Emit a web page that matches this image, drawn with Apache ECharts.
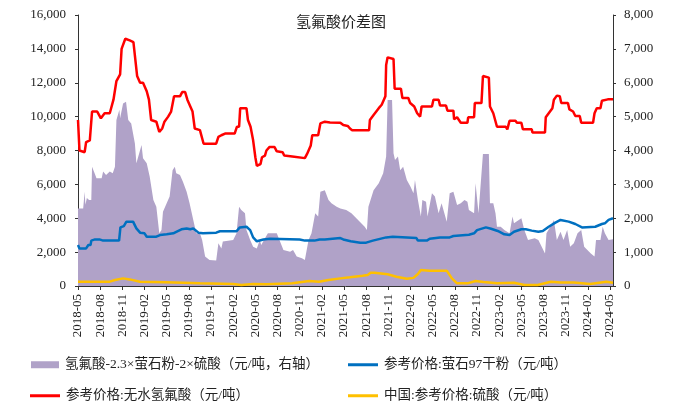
<!DOCTYPE html>
<html>
<head>
<meta charset="utf-8">
<script src="https://cdn.jsdelivr.net/npm/echarts@6/dist/echarts.min.js"></script>
<style>
html,body{margin:0;padding:0;background:#fff;}
#main{width:681px;height:403px;}
</style>
</head>
<body>
<div id="main"></div>
<script>
// 横轴数值 = 自 2018-05 起的月数
var xLabels = ['2018-05','2018-08','2018-11','2019-02','2019-05','2019-08','2019-11','2020-02','2020-05',
    '2020-08','2020-11','2021-02','2021-05','2021-08','2021-11','2022-02','2022-05','2022-08','2022-11',
    '2023-02','2023-05','2023-08','2023-11','2024-02','2024-05'];

// 氢氟酸-2.3×萤石粉-2×硫酸（右轴）
var spread = [[0,2290],[0.7,2290],[0.9,2780],[1.0,2400],[1.2,2600],[1.5,2540],[1.8,2540],[1.9,3520],[2.3,3300],
    [2.5,3180],[3.2,3180],[3.4,3380],[3.8,3280],[4.3,3380],[4.7,3330],[5.0,3520],[5.2,4900],[5.6,5200],[5.7,4950],
    [6.1,5390],[6.5,5440],[6.8,4900],[7.2,4800],[7.7,4210],[7.9,3620],[8.4,4010],[8.6,4160],[8.8,3770],[9.3,3620],
    [9.7,3230],[10.2,2540],[10.6,2340],[11.0,1560],[11.3,1650],[11.5,2190],[12.0,2440],[12.4,2640],[12.8,3420],
    [13.1,3520],[13.3,3330],[13.8,3280],[14.2,3080],[14.7,2780],[15.1,2440],[15.6,1950],[16.0,1560],[16.5,1560],
    [16.8,1360],[17.2,870],[17.8,770],[18.7,750],[19.0,1260],[19.4,1110],[19.6,1310],[21.0,1360],[21.45,1560],
    [21.8,2340],[22.1,2240],[22.6,2150],[22.8,1650],[23.3,1360],[23.7,1160],[24.2,1110],[24.6,1360],[24.8,1210],
    [25.3,1410],[25.7,1560],[26.9,1560],[27.8,1060],[28.7,1010],[29.1,1060],[29.6,870],[30.3,820],[30.7,770],
    [31.2,1360],[31.6,1560],[32.1,2150],[32.5,2050],[32.8,2780],[33.4,2830],[33.9,2540],[34.3,2440],[35.0,2340],
    [35.5,2290],[36.3,2240],[37.0,2150],[37.9,1950],[38.8,1750],[39.1,1650],[39.3,2340],[40.0,2830],[40.7,3030],
    [41.3,3330],[41.7,3820],[41.9,5490],[42.5,5490],[42.7,3920],[42.9,3720],[43.3,3820],[43.6,3420],[44.0,3520],
    [44.5,3130],[45.0,2930],[45.4,2740],[45.6,3130],[46.0,2540],[46.4,2050],[46.6,2540],[47.1,2490],[47.3,2050],
    [47.9,2740],[48.3,2640],[48.8,2150],[49.2,2440],[49.9,1900],[50.3,2740],[50.8,2780],[51.3,2390],[51.8,2440],
    [52.3,2540],[52.7,2490],[52.9,2240],[53.6,2150],[53.8,3030],[54.2,2150],[54.8,3900],[55.6,3900],[55.75,2440],
    [56.2,2440],[56.5,2150],[56.7,1750],[57.2,1750],[57.7,1650],[58.4,1560],[58.8,2050],[59.0,1850],[60.0,2000],
    [60.4,1650],[60.9,1360],[61.8,1410],[62.3,1360],[63.2,960],[63.4,1560],[64.2,1850],[64.4,1950],[64.8,1360],
    [65.3,1600],[65.7,1360],[66.2,1650],[66.6,1160],[67.1,1260],[67.6,1560],[68.1,1650],[68.5,1160],[69.4,960],
    [69.9,870],[70.1,1360],[70.7,1360],[71.0,1750],[71.3,1560],[71.8,1360],[72.4,1380]];

// 参考价格:无水氢氟酸
var hfPrice = [[0,9800],[0.2,8000],[0.9,7900],[1.1,8500],[1.6,8600],[1.9,10300],[2.6,10300],[3.1,9900],[3.6,10200],
    [4.3,10200],[4.8,11000],[5.2,12100],[5.7,12500],[5.9,14000],[6.4,14600],[7.0,14500],[7.5,14400],[7.8,13200],
    [8.0,12400],[8.4,12000],[8.8,12000],[9.3,11500],[9.6,11000],[9.9,9800],[10.6,9700],[11.0,9100],[11.4,9300],
    [11.7,9700],[12.2,10000],[12.6,10300],[13.0,11200],[13.8,11200],[14.1,11450],[14.5,11450],[14.8,11000],
    [15.2,10600],[15.5,10300],[15.8,9300],[16.5,9200],[17.0,8400],[18.7,8400],[19.0,8800],[19.4,8900],[19.9,9000],
    [21.2,9000],[21.5,9400],[21.8,9400],[21.95,10500],[22.8,10500],[23.0,9800],[23.35,9400],[23.7,8600],[24.0,7600],
    [24.2,7100],[24.7,7200],[24.9,7600],[25.3,7700],[25.5,8000],[25.9,8200],[26.6,8200],[26.9,7950],[27.7,7900],
    [27.9,7700],[29.0,7650],[29.2,7550],[30.7,7550],[31.0,7800],[31.5,8300],[31.7,8900],[32.5,8900],[32.8,9600],
    [33.4,9700],[34.1,9650],[35.5,9640],[35.9,9500],[36.5,9450],[36.8,9300],[37.1,9200],[39.4,9200],[39.5,9800],
    [40.0,10100],[40.7,10500],[41.1,10700],[41.6,11200],[41.7,13050],[41.9,13500],[42.7,13400],[42.85,11650],
    [43.7,11650],[43.9,11100],[44.7,11100],[44.95,10800],[45.5,10600],[45.9,10200],[46.3,10000],[46.5,10600],
    [47.9,10600],[48.1,11000],[48.8,11000],[49.0,10650],[49.8,10650],[50.0,10350],[50.8,10350],[50.9,9840],
    [51.3,9960],[51.8,9640],[52.7,9640],[52.8,9960],[53.6,9960],[53.7,10800],[54.6,10800],[54.8,12400],[55.6,12300],
    [55.75,10600],[56.2,10200],[56.7,9400],[57.9,9400],[58.1,9250],[58.3,9250],[58.4,9760],[59.2,9760],[59.4,9640],
    [60.0,9640],[60.2,9250],[61.4,9250],[61.5,9070],[63.2,9070],[63.3,9960],[63.7,10200],[64.2,10500],[64.4,11000],
    [64.8,11240],[65.2,11200],[65.4,10800],[66.3,10800],[66.5,10430],[67.0,10300],[67.3,10040],[67.9,10040],
    [68.1,9640],[69.7,9640],[69.9,10200],[70.2,10500],[70.7,10500],[70.9,10940],[71.7,11020],[72.4,11020]];

// 参考价格:萤石97干粉
var fluorite = [[0,2420],[0.2,2220],[1.1,2220],[1.4,2420],[1.7,2420],[1.8,2680],[2.3,2750],[2.9,2750],[3.4,2680],
    [5.56,2680],[5.74,3460],[6.2,3540],[6.55,3800],[7.45,3800],[7.9,3400],[8.4,3150],[9.0,3110],[9.3,2910],
    [10.6,2910],[11.1,3010],[12.0,3050],[12.9,3110],[13.3,3200],[14.0,3350],[14.7,3400],[15.2,3350],[15.6,3400],
    [16.3,3150],[16.9,3110],[18.7,3150],[19.2,3230],[21.45,3230],[21.9,3460],[22.8,3500],[23.3,3300],[23.7,2870],
    [24.2,2640],[25.1,2750],[26.0,2790],[30.0,2750],[30.7,2680],[32.0,2680],[32.7,2750],[33.4,2750],[33.6,2830],
    [35.5,2830],[35.9,2750],[36.9,2640],[38.2,2560],[39.0,2560],[39.9,2680],[41.7,2870],[42.6,2910],[45.8,2830],
    [46.0,2680],[47.2,2680],[47.6,2790],[49.0,2870],[50.3,2870],[50.8,2950],[52.9,3030],[53.6,3110],[54.0,3300],
    [55.2,3460],[55.9,3380],[56.8,3250],[57.7,3050],[58.4,3010],[59.0,3200],[60.0,3350],[60.6,3350],[61.4,3270],
    [62.3,3200],[62.9,3250],[63.7,3500],[64.6,3740],[65.3,3900],[66.4,3800],[67.3,3660],[68.2,3460],[70.0,3500],
    [70.9,3660],[71.3,3700],[71.8,3900],[72.4,4000]];

// 中国:参考价格:硫酸
var sulfuric = [[0,256],[4.3,256],[5.0,354],[6.1,450],[7.0,390],[8.4,256],[11.9,216],[16.5,157],[21.0,118],
    [22.1,60],[23.7,118],[25.5,100],[29.0,157],[31.3,295],[32.6,250],[33.9,354],[35.5,450],[36.8,510],[38.5,600],
    [39.2,650],[39.6,787],[40.1,787],[41.9,690],[43.1,550],[44.5,433],[45.4,480],[46.0,708],[46.4,945],[47.6,905],
    [49.9,905],[50.6,450],[51.3,157],[52.7,157],[53.8,295],[54.9,240],[56.7,157],[59.0,197],[60.4,60],[62.2,60],
    [64.0,256],[65.3,200],[67.1,200],[69.3,118],[71.5,256],[72.4,197]];

var names = ['氢氟酸-2.3×萤石粉-2×硫酸（元/吨，右轴）','参考价格:萤石97干粉（元/吨）',
    '参考价格:无水氢氟酸（元/吨）','中国:参考价格:硫酸（元/吨）'];

var FONT = '"Liberation Serif","Noto Sans CJK SC",serif';

function addCommas(v){
    return String(v).replace(/\B(?=(\d{3})+(?!\d))/g, ',');
}

function lineSeries(name, data, color){
    return {
        name: name, type: 'line', data: data, symbol: 'none',
        lineStyle: {color: color, width: 2.5}, itemStyle: {color: color},
        z: 3
    };
}

function legendAt(name, left, top, icon, w, h){
    return {
        data: [name], left: left, top: top, icon: icon, itemWidth: w, itemHeight: h,
        padding: 0, itemGap: 0,
        textStyle: {fontFamily: FONT, fontSize: 13.5, color: '#222', padding: [0,0,0,1]}
    };
}

var chart = echarts.init(document.getElementById('main'));
var option = {
    animation: false,
    title: {
        text: '氢氟酸价差图', left: 336, top: 11, textAlign: 'center',
        textStyle: {fontFamily: FONT, fontSize: 15, fontWeight: 'normal', color: '#222'}
    },
    legend: [
        legendAt(names[0], 31, 358, 'rect', 28, 7),
        legendAt(names[1], 348, 358, 'rect', 30, 3),
        legendAt(names[2], 30, 389, 'rect', 30, 3),
        legendAt(names[3], 348, 389, 'rect', 30, 3)
    ],
    grid: {left: 78, right: 68, top: 15, bottom: 117},
    xAxis: {
        type: 'value', min: 0, max: 72.4, interval: 3,
        axisLine: {show: true, lineStyle: {color: '#333', width: 1}},
        axisTick: {show: true, length: 4, lineStyle: {color: '#333'}},
        splitLine: {show: false},
        axisLabel: {
            rotate: 90, margin: 8, fontFamily: FONT, fontSize: 13, color: '#222',
            showMaxLabel: false,
            formatter: function(v){
                if (Math.abs(v / 3 - Math.round(v / 3)) > 1e-6) return '';
                return xLabels[Math.round(v / 3)] || '';
            }
        }
    },
    yAxis: [
        {
            type: 'value', min: 0, max: 16000, interval: 2000,
            axisLine: {show: true, lineStyle: {color: '#333'}},
            axisTick: {show: true, length: 3, lineStyle: {color: '#333'}},
            splitLine: {show: false},
            axisLabel: {margin: 12, fontFamily: FONT, fontSize: 13, color: '#222', formatter: addCommas}
        },
        {
            type: 'value', min: 0, max: 8000, interval: 1000, position: 'right',
            axisLine: {show: true, lineStyle: {color: '#333'}},
            axisTick: {show: true, length: 3, lineStyle: {color: '#333'}},
            splitLine: {show: false},
            axisLabel: {margin: 11, fontFamily: FONT, fontSize: 13, color: '#222', formatter: addCommas}
        }
    ],
    series: [
        {
            name: names[0], type: 'line', yAxisIndex: 1, data: spread, symbol: 'none',
            lineStyle: {width: 0, color: '#B0A2C8'}, itemStyle: {color: '#B0A2C8'},
            areaStyle: {color: '#B0A2C8', opacity: 1}, z: 1
        },
        lineSeries(names[1], fluorite, '#0070C0'),
        lineSeries(names[2], hfPrice, '#FF0000'),
        lineSeries(names[3], sulfuric, '#FFC000')
    ]
};
chart.setOption(option);
</script>
</body>
</html>
